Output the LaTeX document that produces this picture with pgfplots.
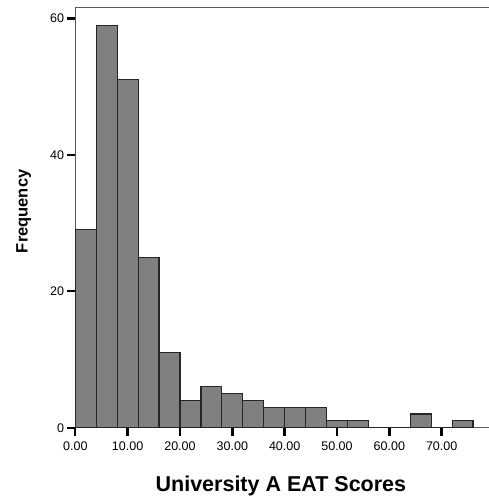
\documentclass[border=0pt]{standalone}
\usepackage{fontspec}
\setmainfont{Liberation Sans}
\usepackage{pgfplots}
\pgfplotsset{compat=1.18}
\begin{document}
\begin{tikzpicture}
\begin{axis}[
  at={(0,0)}, anchor=south west,
  scale only axis, width=413.7pt, height=420.2pt,
  xmin=0, xmax=79.04, ymin=0, ymax=61.6,
  axis x line*=box, axis y line*=left,
  axis line style={draw=black!65, line width=1pt},
  xtick={0,10,20,30,40,50,60,70},
  xticklabels={0.00,10.00,20.00,30.00,40.00,50.00,60.00,70.00},
  ytick={0,20,40,60},
  yticklabels={0,20,40,60},
  xtick pos=bottom, ytick pos=left,
  tick align=outside,
  major tick length=8pt,
  tick style={line width=2.4pt, black},
  xticklabel style={font=\fontsize{12.5}{14}\selectfont, inner sep=0pt, yshift=-6pt},
  yticklabel style={font=\fontsize{12.5}{14}\selectfont, inner sep=0pt, xshift=-3pt},
  xlabel={\textbf{University A EAT Scores}},
  ylabel={\textbf{Frequency}},
  xlabel style={font=\fontsize{21.5}{24}\selectfont, at={(axis description cs:0.497,-0.139)}, anchor=center},
  ylabel style={font=\fontsize{16.5}{18}\selectfont, at={(axis description cs:-0.125,0.515)}, anchor=center, rotate=0},
  clip=false,
]
\addplot[ybar interval, fill=black!50, draw=black!85, line width=1.2pt] coordinates {
(0,29) (4,59) (8,51) (12,25) (16,11) (20,4) (24,6) (28,5) (32,4) (36,3)
(40,3) (44,3) (48,1) (52,1) (56,0) (60,0) (64,2) (68,0) (72,1) (76,1)};
\end{axis}
\pgfresetboundingbox
\path (-75.3pt,-71.3pt) rectangle (413.7pt,427.7pt);
\end{tikzpicture}
\end{document}
